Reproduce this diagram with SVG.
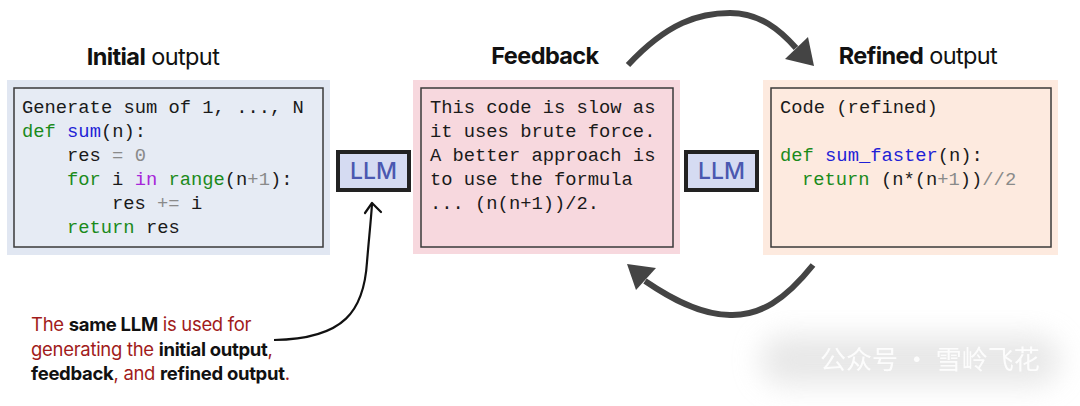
<svg xmlns="http://www.w3.org/2000/svg" width="1080" height="406" viewBox="0 0 1080 406">
<style>
.title{font-family:Inter,"Liberation Sans",sans-serif;font-size:23.5px;fill:#111;letter-spacing:-0.6px}
.b{font-weight:700}
.code{font-family:"Liberation Mono","DejaVu Sans Mono",monospace;font-size:18.8px;fill:#1a1a1a}
.kw{fill:#1b8a1b}
.fn{fill:#1f1fd6}
.op{fill:#8a8a8a}
.in{fill:#a626d9}
.inner{stroke:#3a3a3a;stroke-width:1.5}
.llm rect{fill:#d5dbf2;stroke:#222;stroke-width:4}
.llm text{font-family:Inter,"Liberation Sans",sans-serif;font-size:23px;font-weight:500;fill:#4a58b0;text-anchor:middle}
.note{font-family:Inter,"Liberation Sans",sans-serif;font-size:18.5px;fill:#a11b1b;letter-spacing:-0.3px}
.note .k{fill:#111;font-weight:700}
.thick{fill:none;stroke:#444;stroke-width:6}
</style>
<defs>
<filter id="blur" x="-20%" y="-50%" width="140%" height="200%"><feGaussianBlur stdDeviation="14"/></filter>
</defs>
<rect width="1080" height="406" fill="#fff"/>

<g id="initial">
<text class="title" x="153" y="65" text-anchor="middle"><tspan class="b">Initial</tspan> output</text>
<rect x="7" y="80" width="323" height="175" fill="#e1e7f2"/>
<rect class="inner" x="14" y="88" width="309" height="159" fill="#e6ebf4"/>
<text class="code" x="22" y="113">Generate sum of 1, ..., N</text>
<text class="code" x="22" y="137"><tspan class="kw">def</tspan> <tspan class="fn">sum</tspan>(n):</text>
<text class="code" x="67" y="161">res <tspan class="op">= 0</tspan></text>
<text class="code" x="67" y="185"><tspan class="kw">for</tspan> i <tspan class="in">in</tspan> <tspan class="kw">range</tspan>(n<tspan class="op">+1</tspan>):</text>
<text class="code" x="112" y="209">res <tspan class="op">+=</tspan> i</text>
<text class="code" x="67" y="233"><tspan class="kw">return</tspan> res</text>
</g>

<g id="llm1" class="llm">
<rect x="338" y="152" width="71" height="38"/>
<text x="373.5" y="179">LLM</text>
</g>

<g id="feedback">
<text class="title b" x="545" y="64" text-anchor="middle">Feedback</text>
<rect x="413" y="80" width="267" height="174" fill="#f7d8de"/>
<rect class="inner" x="421" y="88" width="252" height="159" fill="#f7d8de"/>
<text class="code" x="430" y="113">This code is slow as</text>
<text class="code" x="430" y="137">it uses brute force.</text>
<text class="code" x="430" y="161">A better approach is</text>
<text class="code" x="430" y="185">to use the formula</text>
<text class="code" x="430" y="209">... (n(n+1))/2.</text>
</g>

<g id="llm2" class="llm">
<rect x="686" y="152" width="71" height="38"/>
<text x="721.5" y="179">LLM</text>
</g>

<g id="refined">
<text class="title" x="918" y="64" text-anchor="middle"><tspan class="b">Refined</tspan> output</text>
<rect x="763" y="80" width="295" height="175" fill="#fdeadf"/>
<rect class="inner" x="771" y="88" width="280" height="159" fill="#fdeadf"/>
<text class="code" x="780" y="113">Code (refined)</text>
<text class="code" x="780" y="161"><tspan class="kw">def</tspan> <tspan class="fn">sum_faster</tspan>(n):</text>
<text class="code" x="802" y="185"><tspan class="kw">return</tspan> (n*(n<tspan class="op">+1</tspan>))<tspan class="op">//2</tspan></text>
</g>

<g id="note">
<text class="note" x="31" y="331">The <tspan class="k">same LLM</tspan> is used for</text>
<text class="note" x="31" y="356">generating the <tspan class="k">initial output</tspan>,</text>
<text class="note" x="31" y="380"><tspan class="k">feedback</tspan>, and <tspan class="k">refined output</tspan>.</text>
</g>

<g id="connectors">
<path class="thick" d="M628,65 C668,22 700,13 730,13 C760,13 780,30 796,48"/>
<polygon points="814,66 785,59 808,37" fill="#444"/>
<path class="thick" d="M813,265 C785,300 760,316 730,315 C700,315 670,298 645,281"/>
<polygon points="627,264 656,268 636,290" fill="#444"/>
<path d="M274,340 C345,339 364,310 367,262 C369,238 371,220 372,204" fill="none" stroke="#111" stroke-width="2.2"/>
<polyline points="365,213 372,203 381,212" fill="none" stroke="#111" stroke-width="2.2" stroke-linecap="round" stroke-linejoin="round"/>
</g>

<g id="watermark">
<rect x="760" y="335" width="300" height="50" rx="25" fill="#d8d8d8" opacity="0.6" filter="url(#blur)"/>
<text x="820" y="369" font-family="'Noto Sans CJK SC',sans-serif" font-size="26" fill="#ffffff" opacity="0.9">公众号 · 雪岭飞花</text>
</g>
</svg>
